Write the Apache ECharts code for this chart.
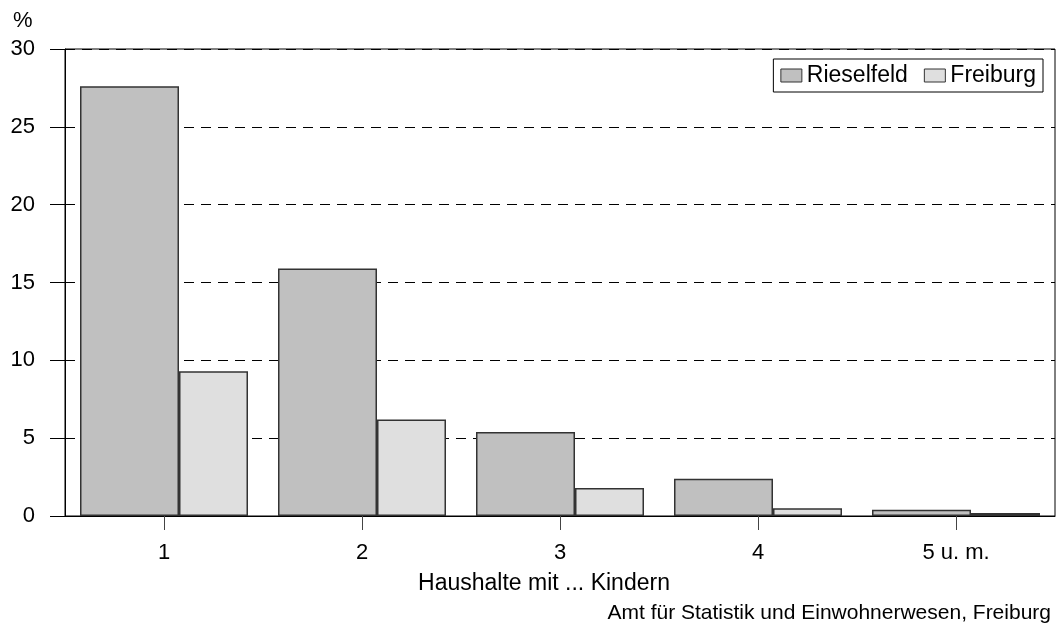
<!DOCTYPE html>
<html><head><meta charset="utf-8">
<script src="https://cdn.jsdelivr.net/npm/echarts@6/dist/echarts.min.js"></script>
<style>html,body{margin:0;padding:0;background:#fff}#c{width:1060px;height:625px}</style>
</head><body><div id="c"></div>
<script>
const categories = ['1', '2', '3', '4', '5 u. m.'];
const rieselfeld = [27.6, 15.9, 5.4, 2.4, 0.4];
const freiburg = [9.3, 6.2, 1.8, 0.5, 0.2];
const seriesNames = ['Rieselfeld', 'Freiburg'];
const xTitle = 'Haushalte mit ... Kindern';
const yUnit = '%';
const source = 'Amt für Statistik und Einwohnerwesen, Freiburg';

const FONT = '"Liberation Sans", Arial, sans-serif';
const chart = echarts.init(document.getElementById('c'), null, {renderer: 'canvas'});
const yBase = {
  type: 'value', min: 0, max: 30, interval: 5, position: 'left'
};
chart.setOption({
  animation: false,
  backgroundColor: '#fff',
  textStyle: {fontFamily: FONT},
  title: [
    {text: yUnit, left: 8, top: 5, textStyle: {fontFamily: FONT, fontSize: 22, fontWeight: 'normal', color: '#000'}},
    {text: xTitle, left: 539, top: 567, textAlign: 'center', textStyle: {fontFamily: FONT, fontSize: 23, fontWeight: 'normal', color: '#000'}},
    {text: source, right: 4, top: 598, textStyle: {fontFamily: FONT, fontSize: 21, fontWeight: 'normal', color: '#000'}}
  ],
  legend: {
    right: 17, top: 59, orient: 'horizontal',
    data: seriesNames,
    itemWidth: 21, itemHeight: 13, itemGap: 16,
    padding: [5, 7, 5, 7],
    borderColor: '#000', borderWidth: 1,
    icon: 'rect',
    textStyle: {fontFamily: FONT, fontSize: 23, color: '#000'},
    itemStyle: {borderColor: '#333', borderWidth: 1}
  },
  grid: {left: 65, right: 5, top: 49, bottom: 109, show: true, borderColor: '#000', borderWidth: 1, backgroundColor: 'transparent'},
  xAxis: {
    type: 'category', data: categories,
    axisLine: {show: true, lineStyle: {color: '#000', width: 1}},
    axisTick: {show: true, alignWithLabel: true, length: 14, lineStyle: {color: '#444'}},
    axisLabel: {fontFamily: FONT, fontSize: 22, color: '#000', margin: 26},
    splitLine: {show: false}
  },
  yAxis: [
    Object.assign({}, yBase, {
      axisLine: {show: true, lineStyle: {color: '#000'}},
      axisTick: {show: true, length: 15, lineStyle: {color: '#000'}},
      axisLabel: {fontFamily: FONT, fontSize: 22, color: '#000', margin: 30},
      splitLine: {show: true, lineStyle: {color: '#000', type: [10, 7], width: 1}}
    }),
    Object.assign({}, yBase, {
      axisLine: {show: false},
      axisTick: {show: true, inside: true, length: 8, lineStyle: {color: '#000'}},
      axisLabel: {show: false},
      splitLine: {show: false}
    })
  ],
  series: [
    {name: seriesNames[0], type: 'bar', data: rieselfeld, barWidth: 99, barGap: '0%',
     itemStyle: {color: '#c0c0c0', borderColor: '#333', borderWidth: 1.5}},
    {name: seriesNames[1], type: 'bar', data: freiburg, barWidth: 69, barGap: '0%',
     itemStyle: {color: '#dfdfdf', borderColor: '#333', borderWidth: 1.5}}
  ]
});
</script></body></html>
